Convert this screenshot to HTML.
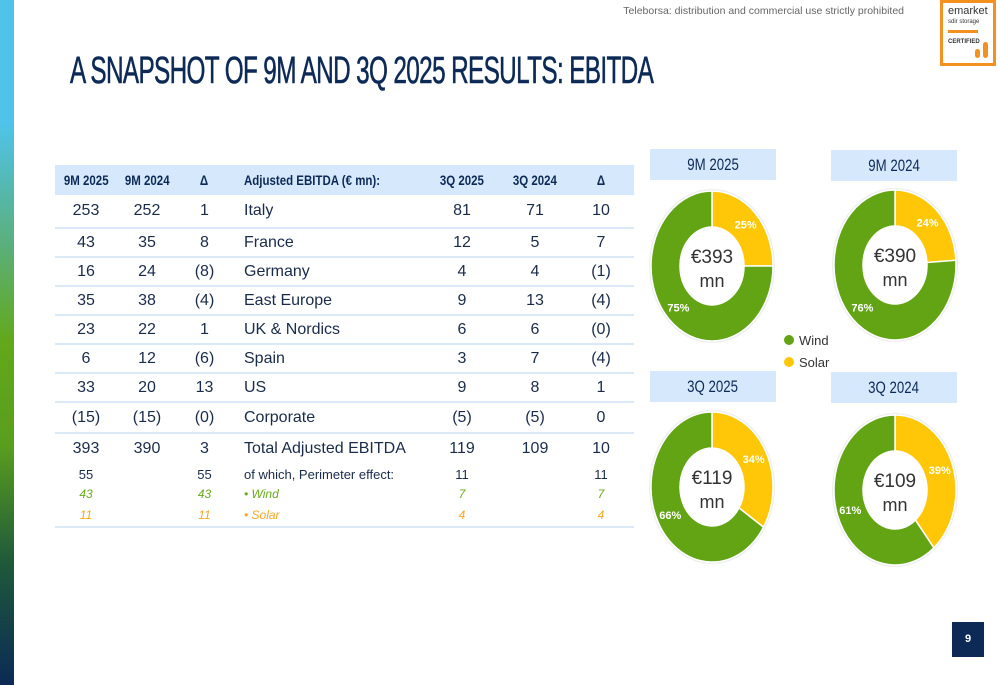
<!DOCTYPE html>
<html><head><meta charset="utf-8">
<style>
body{margin:0;width:1000px;height:685px;overflow:hidden;background:#fff;font-family:"Liberation Sans",sans-serif;position:relative}
.abs{position:absolute}
.side{left:0;top:0;width:14px;height:685px;background:linear-gradient(#4fc3ea 0%,#4fc3ea 18%,#5ab080 35%,#62a81a 50%,#5a9e1e 65%,#1f5a3a 82%,#0b2a55 100%)}
.title{left:70px;top:50px;font-size:38px;color:#0d2a57;white-space:nowrap;transform-origin:0 0;transform:scaleX(0.64);letter-spacing:-1px;-webkit-text-stroke:0.6px #0d2a57}
.note{right:96px;top:5px;font-size:10.5px;color:#666}
.logo{left:940px;top:0;width:56px;height:66px;border:3px solid #f39020;box-sizing:border-box;background:#fff;font-size:11px;color:#333}
table{position:absolute;left:55px;top:165px;width:579px;border-collapse:collapse;font-size:16px;color:#1a2b4a}
td{padding:0;text-align:center}
tr.hd td{background:#d6e8fb;height:30px;font-weight:bold;font-size:14px;color:#0d2a57}
tr.hd span{display:inline-block;transform:scaleX(0.82);white-space:nowrap}
tr.hd td.l span{transform-origin:0 50%}
tr.r td{height:27px;border-bottom:2px solid #dbe8f6}
td.l{text-align:left;padding-left:12px}
tr.s td{font-size:13px;height:20px}
.w td{color:#6aaa1a;font-style:italic;font-size:12px!important}
.so td{color:#f5a623;font-style:italic;font-size:12px!important}
.box{background:#d6e8fb;color:#0d2a57;font-size:17px;text-align:center;line-height:31px;width:126px;height:31px}
.box span{display:inline-block;transform:scaleX(0.78)}
.pg{left:952px;top:622px;width:32px;height:35px;background:#0d2a57;color:#fff;font-size:11px;font-weight:bold;text-align:center;line-height:35px}
</style></head><body>
<div class="abs side"></div>
<div class="abs note">Teleborsa: distribution and commercial use strictly prohibited</div>
<div class="abs logo"><div style="padding:4px 0 0 5px;line-height:9px">emarket<br><span style="font-size:6px">sdir storage</span><div style="width:30px;height:3px;background:#f39020;margin:3px 0"></div><span style="font-size:6px;font-weight:bold">CERTIFIED</span></div><div style="position:absolute;right:5px;bottom:5px;width:5px;height:16px;background:#f39020;border-radius:3px"></div><div style="position:absolute;right:13px;bottom:5px;width:5px;height:9px;background:#f39020;border-radius:3px"></div></div>
<div class="abs title">A SNAPSHOT OF 9M AND 3Q 2025 RESULTS: EBITDA</div>

<table>
<colgroup><col style="width:62px"><col style="width:60px"><col style="width:55px"><col style="width:190px"><col style="width:80px"><col style="width:66px"><col style="width:66px"></colgroup>
<tr class="hd"><td><span>9M 2025</span></td><td><span>9M 2024</span></td><td><span>Δ</span></td><td class="l"><span>Adjusted EBITDA (€ mn):</span></td><td><span>3Q 2025</span></td><td><span>3Q 2024</span></td><td><span>Δ</span></td></tr>
<tr class="r" style="height:33px"><td style="height:31px">253</td><td>252</td><td>1</td><td class="l">Italy</td><td>81</td><td>71</td><td>10</td></tr>
<tr class="r"><td>43</td><td>35</td><td>8</td><td class="l">France</td><td>12</td><td>5</td><td>7</td></tr>
<tr class="r"><td>16</td><td>24</td><td>(8)</td><td class="l">Germany</td><td>4</td><td>4</td><td>(1)</td></tr>
<tr class="r"><td>35</td><td>38</td><td>(4)</td><td class="l">East Europe</td><td>9</td><td>13</td><td>(4)</td></tr>
<tr class="r"><td>23</td><td>22</td><td>1</td><td class="l">UK &amp; Nordics</td><td>6</td><td>6</td><td>(0)</td></tr>
<tr class="r"><td>6</td><td>12</td><td>(6)</td><td class="l">Spain</td><td>3</td><td>7</td><td>(4)</td></tr>
<tr class="r"><td>33</td><td>20</td><td>13</td><td class="l">US</td><td>9</td><td>8</td><td>1</td></tr>
<tr class="r"><td style="height:29px">(15)</td><td>(15)</td><td>(0)</td><td class="l">Corporate</td><td>(5)</td><td>(5)</td><td>0</td></tr>
<tr><td style="height:30px">393</td><td>390</td><td>3</td><td class="l">Total Adjusted EBITDA</td><td>119</td><td>109</td><td>10</td></tr>
<tr class="s"><td>55</td><td></td><td>55</td><td class="l">of which, Perimeter effect:</td><td>11</td><td></td><td>11</td></tr>
<tr class="s w"><td>43</td><td></td><td>43</td><td class="l">• Wind</td><td>7</td><td></td><td>7</td></tr>
<tr class="s so" style="border-bottom:2px solid #dbe8f6"><td style="height:22px">11</td><td></td><td>11</td><td class="l">• Solar</td><td>4</td><td></td><td>4</td></tr>
</table>

<div class="abs box" style="left:650px;top:149px"><span>9M 2025</span></div>
<div class="abs box" style="left:831px;top:150px"><span>9M 2024</span></div>
<div class="abs box" style="left:650px;top:371px"><span>3Q 2025</span></div>
<div class="abs box" style="left:831px;top:372px"><span>3Q 2024</span></div>

<svg class="abs" style="left:0;top:0" width="1000" height="685" id="donuts">
<circle cx="789" cy="340" r="5" fill="#62a413"/>
<text x="799" y="345" font-size="13" fill="#333">Wind</text>
<circle cx="789" cy="362" r="5" fill="#ffc708"/>
<text x="799" y="367" font-size="13" fill="#333">Solar</text>
</svg>
<div class="abs pg">9</div>

<script>
const periods = ["9M 2025","9M 2024","3Q 2025","3Q 2024"];
const totals = ["€393","€390","€119","€109"];
const solarPct = [25,24,34,39];
const windPct = [75,76,66,61];
const centers = [[712,266],[895,265],[712,487],[895,490]];
const RX=61, RY=75, IRX=32, IRY=39;
const svg=document.getElementById('donuts');
const NS="http://www.w3.org/2000/svg";
function pt(cx,cy,rx,ry,f){const a=f*2*Math.PI;return [cx+rx*Math.sin(a),cy-ry*Math.cos(a)];}
function arc(cx,cy,f0,f1){
  const large=(f1-f0)>0.5?1:0;
  const [x0,y0]=pt(cx,cy,RX,RY,f0),[x1,y1]=pt(cx,cy,RX,RY,f1);
  const [x2,y2]=pt(cx,cy,IRX,IRY,f1),[x3,y3]=pt(cx,cy,IRX,IRY,f0);
  return `M${x0},${y0}A${RX},${RY} 0 ${large} 1 ${x1},${y1}L${x2},${y2}A${IRX},${IRY} 0 ${large} 0 ${x3},${y3}Z`;
}
function txt(x,y,s,size,fill,bold,name){
  const t=document.createElementNS(NS,'text');
  t.setAttribute('x',x);t.setAttribute('y',y);t.setAttribute('font-size',size);t.setAttribute('fill',fill);
  t.setAttribute('text-anchor','middle');if(bold)t.setAttribute('font-weight','bold');
  t.textContent=s;
  
  
  svg.appendChild(t);
}
periods.forEach((p,i)=>{
  const [cx,cy]=centers[i];
  const tot=solarPct[i]+windPct[i];
  const fs=solarPct[i]/tot;
  const e=document.createElementNS(NS,'ellipse');
  e.setAttribute('cx',cx);e.setAttribute('cy',cy);e.setAttribute('rx',RX+1);e.setAttribute('ry',RY+1);e.setAttribute('fill','none');e.setAttribute('stroke','#eee');e.setAttribute('stroke-width','2');
  
  
  svg.appendChild(e);
  const s=document.createElementNS(NS,'path');
  s.setAttribute('d',arc(cx,cy,0,fs));s.setAttribute('fill','#ffc708');s.setAttribute('stroke','#fff');s.setAttribute('stroke-width','1.5');
  
  
  svg.appendChild(s);
  const w=document.createElementNS(NS,'path');
  w.setAttribute('d',arc(cx,cy,fs,1));w.setAttribute('fill','#62a413');w.setAttribute('stroke','#fff');w.setAttribute('stroke-width','1.5');
  
  
  svg.appendChild(w);
  const [sx,sy]=pt(cx,cy,RX*0.78,RY*0.78,fs/2);
  txt(sx,sy+4,solarPct[i]+'%',11,'#fff',true,'solar-label');
  const [wx,wy]=pt(cx,cy,RX*0.78,RY*0.78,(fs+1)/2);
  txt(wx,wy+4,windPct[i]+'%',11,'#fff',true,'wind-label');
  txt(cx,cy-3,totals[i],19,'#333',false,'total-value');
  txt(cx,cy+21,'mn',18,'#333',false,'total-unit');
});
</script>
</body></html>
